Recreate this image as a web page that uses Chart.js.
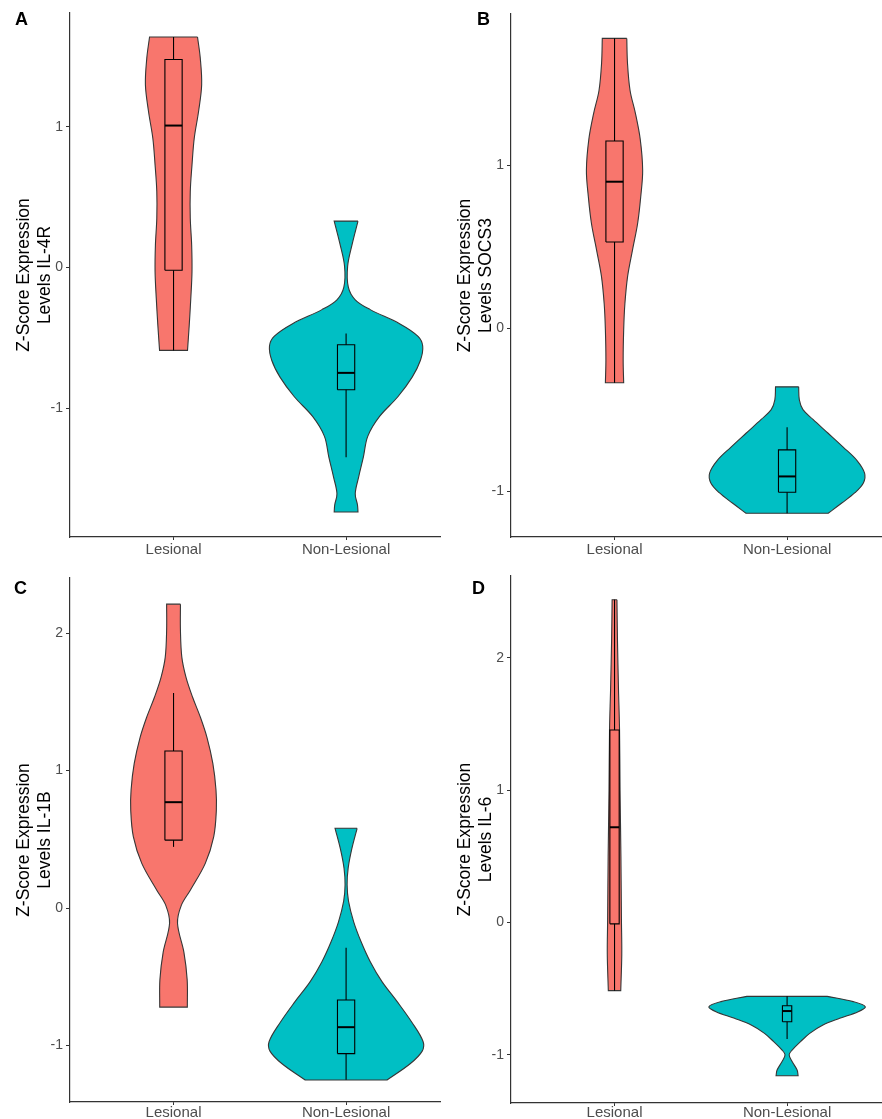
<!DOCTYPE html>
<html>
<head>
<meta charset="utf-8">
<script src="https://cdn.jsdelivr.net/npm/chart.js@4.4.1/dist/chart.umd.min.js"></script>
<style>
  body { margin: 0; background: #fff; width: 882px; height: 1119px; position: relative; overflow: hidden;
         font-family: "Liberation Sans", Arial, sans-serif; }
  .panel { position: absolute; }
  .letter { position: absolute; font-weight: bold; font-size: 18px; line-height: 18px; color: #000; }
</style>
</head>
<body>
<div class="panel" style="left:0;top:0"><canvas id="pA" width="441" height="560"></canvas></div>
<div class="panel" style="left:441px;top:0"><canvas id="pB" width="441" height="560"></canvas></div>
<div class="panel" style="left:0;top:560px"><canvas id="pC" width="441" height="559"></canvas></div>
<div class="panel" style="left:441px;top:560px"><canvas id="pD" width="441" height="559"></canvas></div>
<div class="letter" style="left:15px;top:10px">A</div>
<div class="letter" style="left:477px;top:10px">B</div>
<div class="letter" style="left:14px;top:579px">C</div>
<div class="letter" style="left:472px;top:579px">D</div>

<script>
const categories = ['Lesional', 'Non-Lesional'];
const genes = ['IL-4R', 'SOCS3', 'IL-1B', 'IL-6'];
const yTickValues = [[-1, 0, 1], [-1, 0, 1], [-1, 0, 1, 2], [-1, 0, 1, 2]];
const yRanges = [[-1.918, 1.811], [-1.282, 1.93], [-1.41, 2.40], [-1.364, 2.619]];

// violin outlines, top to bottom: [z-score, half width in category units]
const violinLesA = [[1.64, 0.139], [1.49, 0.155], [1.30, 0.163], [1.11, 0.145], [0.92, 0.12], [0.73, 0.107],
  [0.54, 0.097], [0.35, 0.097], [0.16, 0.105], [-0.03, 0.107], [-0.22, 0.10], [-0.41, 0.091], [-0.59, 0.081]];
const violinNonA = [[0.33, 0.069], [0.17, 0.036], [0.01, 0.009], [-0.14, 0.013], [-0.23, 0.053], [-0.30, 0.14],
  [-0.40, 0.31], [-0.49, 0.417], [-0.56, 0.444], [-0.66, 0.431], [-0.78, 0.383], [-0.92, 0.30], [-1.06, 0.194],
  [-1.20, 0.126], [-1.35, 0.10], [-1.49, 0.073], [-1.61, 0.053], [-1.69, 0.066], [-1.74, 0.069]];
const violinLesB = [[1.78, 0.071], [1.63, 0.075], [1.46, 0.090], [1.32, 0.121], [1.16, 0.149], [0.97, 0.163],
  [0.81, 0.152], [0.645, 0.134], [0.48, 0.104], [0.32, 0.076], [0.15, 0.06], [-0.01, 0.053], [-0.195, 0.05],
  [-0.335, 0.053]];
const violinNonB = [[-0.36, 0.067], [-0.44, 0.071], [-0.50, 0.092], [-0.56, 0.15], [-0.645, 0.238], [-0.73, 0.325],
  [-0.81, 0.403], [-0.89, 0.449], [-0.95, 0.442], [-1.01, 0.393], [-1.075, 0.315], [-1.136, 0.238]];
const violinLesC = [[2.21, 0.04], [2.02, 0.04], [1.825, 0.048], [1.68, 0.072], [1.535, 0.11], [1.39, 0.155],
  [1.24, 0.194], [1.05, 0.228], [0.86, 0.246], [0.71, 0.248], [0.52, 0.233], [0.325, 0.184], [0.13, 0.097],
  [0.02, 0.045], [-0.11, 0.023], [-0.32, 0.06], [-0.52, 0.079], [-0.72, 0.08]];
const violinNonC = [[0.58, 0.064], [0.43, 0.033], [0.29, 0.012], [0.17, 0.006], [0.05, 0.014], [-0.10, 0.044],
  [-0.245, 0.087], [-0.39, 0.14], [-0.535, 0.208], [-0.68, 0.296], [-0.83, 0.381], [-0.97, 0.446],
  [-1.04, 0.441], [-1.13, 0.373], [-1.25, 0.237]];
const violinLesD = [[2.44, 0.014], [2.135, 0.017], [1.76, 0.023], [1.455, 0.029], [1.0, 0.032], [0.50, 0.037],
  [0.02, 0.04], [-0.24, 0.042], [-0.515, 0.036]];
const violinNonD = [[-0.558, 0.233], [-0.598, 0.383], [-0.636, 0.453], [-0.674, 0.412], [-0.724, 0.305],
  [-0.775, 0.208], [-0.838, 0.131], [-0.90, 0.078], [-0.964, 0.029], [-1.0, 0.012], [-1.05, 0.029],
  [-1.115, 0.058], [-1.158, 0.064]];

// box stats: [lower whisker, Q1, median, Q3, upper whisker]
const boxLesA = [-0.59, -0.02, 1.01, 1.48, 1.64];
const boxNonA = [-1.35, -0.87, -0.75, -0.55, -0.47];
const boxLesB = [-0.335, 0.53, 0.90, 1.15, 1.78];
const boxNonB = [-1.136, -1.007, -0.91, -0.747, -0.608];
const boxLesC = [0.445, 0.494, 0.77, 1.142, 1.564];
const boxNonC = [-1.249, -1.058, -0.866, -0.668, -0.288];
const boxLesD = [-0.515, -0.01, 0.72, 1.455, 2.44];
const boxNonD = [-0.881, -0.75, -0.669, -0.629, -0.558];

const FONT = '"Liberation Sans", Arial, sans-serif';
Chart.defaults.font.family = FONT;

const fills = ['#F8766D', '#00BFC4'];

// canvas id, chart-area top, x axis height, x label padding, box half width
const panels = [
  { id: 'pA', top: 13, xh: 23, lp: 1, bw: 0.05, violins: [violinLesA, violinNonA], boxes: [boxLesA, boxNonA] },
  { id: 'pB', top: 14, xh: 23, lp: 1, bw: 0.05, violins: [violinLesB, violinNonB], boxes: [boxLesB, boxNonB] },
  { id: 'pC', top: 18, xh: 17, lp: -1, bw: 0.05, violins: [violinLesC, violinNonC], boxes: [boxLesC, boxNonC] },
  { id: 'pD', top: 16, xh: 16, lp: -2, bw: 0.027, violins: [violinLesD, violinNonD], boxes: [boxLesD, boxNonD] },
];

function violinPoints(profile, c) {
  const right = profile.map(([v, w]) => ({ x: c + w, y: v }));
  const left = profile.map(([v, w]) => ({ x: c - w, y: v })).reverse();
  // doubled corner points keep the trimmed ends flat
  return [right[0], ...right, right[right.length - 1], left[0], ...left, left[left.length - 1], right[0]];
}

function lineSet(data, width) {
  return { data, showLine: true, fill: false, borderColor: '#000', borderWidth: width,
           pointRadius: 0, tension: 0, borderJoinStyle: 'miter', order: 1 };
}

function boxSets(stats, c, hw) {
  const [lo, q1, med, q3, hi] = stats;
  return [
    lineSet([{ x: c - hw, y: q1 }, { x: c + hw, y: q1 }, { x: c + hw, y: q3 }, { x: c - hw, y: q3 }, { x: c - hw, y: q1 }], 1.1),
    lineSet([{ x: c - hw, y: med }, { x: c + hw, y: med }], 2),
    lineSet([{ x: c, y: q3 }, { x: c, y: hi }], 1.1),
    lineSet([{ x: c, y: lo }, { x: c, y: q1 }], 1.1),
  ];
}

panels.forEach((p, i) => {
  const datasets = [];
  p.violins.forEach((prof, k) => {
    datasets.push({
      data: violinPoints(prof, k + 1), showLine: true, fill: 'shape',
      backgroundColor: fills[k], borderColor: '#363636', borderWidth: 1.1,
      pointRadius: 0, tension: 0.35, order: 2,
    });
  });
  p.boxes.forEach((b, k) => datasets.push(...boxSets(b, k + 1, p.bw)));

  new Chart(document.getElementById(p.id), {
    type: 'scatter',
    data: { datasets },
    options: {
      responsive: false, animation: false, events: [],
      layout: { padding: { top: p.top, left: 0, right: 0, bottom: 0 } },
      plugins: { legend: { display: false }, tooltip: { enabled: false } },
      scales: {
        x: {
          type: 'linear', min: 0.4, max: 2.55,
          grid: { drawOnChartArea: false, drawTicks: true, tickLength: 3, color: '#333' },
          border: { display: true, color: '#333', width: 1.2 },
          ticks: { font: { size: 15 }, color: '#4d4d4d', padding: p.lp, maxRotation: 0,
                   callback: v => categories[v - 1] || '' },
          afterBuildTicks: s => { s.ticks = [{ value: 1 }, { value: 2 }]; },
          afterFit: s => { s.height = p.xh; s.paddingLeft = 0; s.paddingRight = 0; },
        },
        y: {
          min: yRanges[i][0], max: yRanges[i][1],
          grid: { drawOnChartArea: false, drawTicks: true, tickLength: 4, color: '#333' },
          border: { display: true, color: '#333', width: 1.2 },
          ticks: { font: { size: 14 }, color: '#4d4d4d', padding: 3 },
          afterBuildTicks: s => { s.ticks = yTickValues[i].map(v => ({ value: v })); },
          afterFit: s => { s.width = 70; s.paddingTop = 0; s.paddingBottom = 0; },
          title: { display: true, text: ['Z-Score Expression', 'Levels ' + genes[i]],
                   font: { size: 17.5 }, color: '#000', padding: { top: 13.5, bottom: 0 } },
        },
      },
    },
  });
});
</script>
</body>
</html>
